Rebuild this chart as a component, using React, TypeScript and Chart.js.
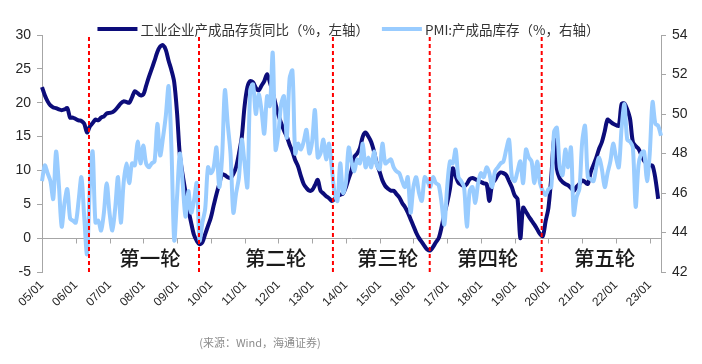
import React, { useEffect, useRef } from 'react';
import { Chart, registerables } from 'chart.js';

Chart.register(...registerables);

// ---------- data ----------
const START_YEAR = 2005;
const MONTH_COUNT = 221; // 2005/01 .. 2023/05

const monthLabels: string[] = [];
for (let i = 0; i < MONTH_COUNT; i++) {
  const yy = (START_YEAR + Math.floor(i / 12)) % 100;
  const mm = (i % 12) + 1;
  monthLabels.push(`${String(yy).padStart(2, '0')}/${String(mm).padStart(2, '0')}`);
}

// 工业企业产成品存货同比（%，左轴） 2005/01 .. 2023/04
const inventoryYoY: number[] = [
  22.3, 21.1, 20.2, 19.6, 19.3, 19.2, 19.0, 18.9, 19.0, 19.2, 17.8, 17.8,
  17.6, 17.4, 17.3, 16.9, 15.6, 16.5, 17.0, 17.5, 17.4, 17.8, 18.0, 18.4,
  18.5, 18.6, 18.9, 19.4, 19.9, 20.2, 20.1, 20.0, 20.8, 21.7, 21.4, 21.1,
  21.2, 22.5, 23.8, 25.0, 26.2, 27.5, 28.3, 28.5, 27.8, 26.2, 24.8, 23.0,
  18.5, 12.2, 9.3, 6.8, 4.3, 2.3, 0.5, -0.4, -0.9, -0.6, 0.6, 1.8,
  3.0, 4.8, 6.5, 8.0, 9.4, 9.3, 9.0, 8.9, 9.5, 10.5, 12.5, 14.9,
  19.5, 22.3, 23.2, 23.0, 22.2, 21.8, 22.5, 23.2, 24.2, 23.0, 21.5, 19.8,
  18.2, 17.0, 15.9, 15.0, 13.8, 12.8, 11.5, 10.6, 9.2, 8.0, 7.4, 7.0,
  7.1, 7.8, 8.6, 7.0, 6.6, 6.2, 5.9, 5.5, 5.8, 6.2, 6.4, 6.6,
  7.5, 8.8, 10.0, 12.0, 12.5, 13.3, 15.0, 15.6, 15.0, 14.2, 12.8, 11.0,
  9.8, 8.5, 7.7, 7.3, 7.0, 7.0, 6.5, 6.0, 5.2, 4.6, 3.8, 2.8,
  1.8, 0.8, 0.0, -0.6, -1.2, -1.7, -1.8, -1.3, -0.6, 0.0, 1.6, 3.6,
  5.2, 7.3, 10.3, 9.2, 8.2, 7.9, 7.7, 8.0, 8.7, 8.9, 8.7, 8.5,
  8.3, 8.1, 8.0, 5.5, 8.0, 8.6, 9.3, 9.7, 9.6, 9.3, 8.4, 7.5,
  6.3, 5.8, 0.0, 4.5, 3.9, 3.2, 2.6, 2.0, 1.3, 0.6, 0.3, 2.5,
  4.5, 9.0, 14.6, 10.2, 8.8, 8.3, 8.0, 7.8, 7.4, 7.0, 7.6, 8.0,
  8.5, 8.3, 8.0, 9.7, 10.8, 11.9, 13.2, 14.2, 15.8, 17.5, 17.2, 16.9,
  16.7, 16.6, 19.8, 19.9, 19.0, 17.6, 14.2, 13.6, 13.2, 12.3, 11.4, 11.0,
  10.8, 10.7, 8.8, 5.8,
];

// PMI:产成品库存（%，右轴） 2005/01 .. 2023/05
const pmiInventory: number[] = [
  46.6, 47.4, 47.0, 46.6, 45.7, 48.1, 46.4, 44.3, 45.5, 46.2, 44.7, 44.6,
  44.5, 45.6, 46.8, 44.8, 42.9, 46.3, 48.1, 44.5, 44.6, 44.1, 45.0, 46.5,
  45.0, 44.1, 45.2, 46.8, 44.5, 46.5, 47.5, 46.5, 47.5, 47.4, 48.6, 47.5,
  48.4, 47.5, 47.3, 47.5, 47.6, 49.5, 47.9, 48.8, 49.9, 51.4, 48.3, 43.6,
  45.8, 48.0, 46.5, 44.8, 46.1, 45.0, 45.6, 46.5, 43.6, 44.5, 45.2, 47.3,
  47.0, 47.3, 48.3, 46.3, 47.8, 51.2, 49.5, 48.0, 45.0, 46.0, 46.8, 48.7,
  47.5, 46.3, 51.2, 51.5, 50.0, 51.0, 50.2, 49.0, 50.9, 50.4, 53.1, 48.2,
  49.0, 50.5, 50.9, 48.8, 51.8, 52.2, 48.0, 48.5, 48.2, 48.6, 49.2, 48.0,
  48.6, 50.2, 47.8, 48.0, 48.7, 47.7, 48.5, 47.3, 46.0, 45.6, 47.5, 46.0,
  46.5, 48.3, 47.6, 47.1, 47.7, 47.5, 48.5, 47.3, 47.8, 47.3, 48.1, 47.4,
  47.2, 48.5, 47.5, 47.6, 47.7, 47.3, 47.1, 47.0, 46.6, 46.3, 46.8, 45.0,
  46.3, 46.8, 46.0, 45.6, 46.8, 46.6, 46.3, 46.8, 46.5, 46.4, 45.5, 44.4,
  46.3, 47.6, 47.5, 48.2, 46.8, 46.6, 46.3, 44.3, 46.1, 46.3, 45.5, 46.5,
  47.0, 46.8, 47.3, 47.0, 46.3, 47.1, 47.3, 47.5, 47.6, 48.2, 48.7, 46.8,
  46.6, 47.1, 47.6, 46.5, 48.2, 47.8, 47.6, 46.5, 47.6, 46.5, 46.1, 45.9,
  46.2, 46.3, 49.1, 49.3, 47.3, 46.9, 48.2, 47.3, 48.3, 44.9, 45.8, 46.2,
  48.6, 49.4, 46.8, 46.7, 46.6, 47.3, 47.8, 47.2, 46.3, 47.0, 47.6, 48.5,
  47.8, 47.3, 49.3, 50.5, 48.7, 48.6, 48.3, 45.3, 47.4, 48.0, 48.1, 46.6,
  48.0, 50.6, 49.5, 49.4, 48.9,
];

const seriesNames = ['工业企业产成品存货同比（%，左轴）', 'PMI:产成品库存（%，右轴）'];

// 库存周期分界（月序号，2005/01 = 0）
const cycleBoundaries = [16.7, 55.8, 103.4, 137.8, 177.6];
const cycleNames = ['第一轮', '第二轮', '第三轮', '第四轮', '第五轮'];
const cycleLabelMonths = [38.4, 83.1, 122.9, 158.4, 200];
const cycleLabelValue = -3;

const leftMin = -5, leftMax = 30, leftStep = 5;
const rightMin = 42, rightMax = 54, rightStep = 2;

const sourceNote = '(来源：Wind，海通证券)';

// ---------- styles ----------
const DARK = '#0c0c7a';
const LIGHT = '#99ccff';
const AXIS = '#a6a6a6';
const NUM_FONT = '"Liberation Sans", Arial, sans-serif';
const CJK_FONT = '"Noto Sans CJK SC", "Noto Sans", sans-serif';

const overlayPlugin = {
  id: 'overlay',
  beforeDatasetsDraw(chart: any) {
    const { ctx, chartArea, scales } = chart;
    const xs = scales.x;
    const ys = scales.y;
    const y0 = Math.round(ys.getPixelForValue(0)) + 0.5;
    ctx.save();
    ctx.strokeStyle = AXIS;
    ctx.lineWidth = 1;
    ctx.beginPath();
    ctx.moveTo(chartArea.left, y0);
    ctx.lineTo(chartArea.right, y0);
    monthLabels.forEach((l, i) => {
      if (l.endsWith('/01')) {
        const px = Math.round(xs.getPixelForValue(i)) + 0.5;
        ctx.moveTo(px, y0);
        ctx.lineTo(px, y0 + 5);
      }
    });
    ctx.stroke();
    ctx.restore();
  },
  afterDatasetsDraw(chart: any) {
    const { ctx, chartArea, scales } = chart;
    const xs = scales.x;
    ctx.save();
    ctx.strokeStyle = '#ff0000';
    ctx.lineWidth = 2;
    ctx.setLineDash([4, 3]);
    cycleBoundaries.forEach((m) => {
      const px = xs.getPixelForValue(m);
      ctx.beginPath();
      ctx.moveTo(px, chartArea.top + 2);
      ctx.lineTo(px, chartArea.bottom + 3);
      ctx.stroke();
    });
    ctx.restore();
  },
  afterDraw(chart: any) {
    const { ctx, scales } = chart;
    const xs = scales.x;
    const ys = scales.y;
    ctx.save();
    // cycle labels
    ctx.fillStyle = '#1a1a1a';
    ctx.font = `500 20.5px ${CJK_FONT}`;
    ctx.textAlign = 'center';
    ctx.textBaseline = 'middle';
    cycleNames.forEach((name, i) => {
      ctx.fillText(name, xs.getPixelForValue(cycleLabelMonths[i]), ys.getPixelForValue(cycleLabelValue));
    });

    // legend
    ctx.font = `13.5px ${CJK_FONT}`;
    ctx.textAlign = 'left';
    ctx.fillStyle = '#333333';
    const lineLen = 40;
    const gapAfterLine = 3;
    const gapBetween = 13;
    const w1 = ctx.measureText(seriesNames[0]).width;
    const w2 = ctx.measureText(seriesNames[1]).width;
    const total = lineLen + gapAfterLine + w1 + gapBetween + lineLen + gapAfterLine + w2;
    let lx = 348.5 - total / 2;
    const ly = 29;
    const colors = [DARK, LIGHT];
    const widths = [w1, w2];
    for (let i = 0; i < 2; i++) {
      ctx.strokeStyle = colors[i];
      ctx.lineWidth = 4;
      ctx.beginPath();
      ctx.moveTo(lx, ly);
      ctx.lineTo(lx + lineLen, ly);
      ctx.stroke();
      lx += lineLen + gapAfterLine;
      ctx.fillText(seriesNames[i], lx, ly + 1);
      lx += widths[i] + gapBetween;
    }

    // source
    ctx.font = `11px ${CJK_FONT}`;
    ctx.fillStyle = '#8c8c8c';
    ctx.textAlign = 'center';
    ctx.fillText(sourceNote, 260, 343);
    ctx.restore();
  },
};

export default function App() {
  const canvasRef = useRef<HTMLCanvasElement | null>(null);

  useEffect(() => {
    if (!canvasRef.current) return;
    const chart = new Chart(canvasRef.current, {
      type: 'line',
      data: {
        labels: monthLabels,
        datasets: [
          {
            label: seriesNames[0],
            data: inventoryYoY,
            yAxisID: 'y',
            borderColor: DARK,
            borderWidth: 4,
            pointRadius: 0,
            tension: 0.3,
            order: 1,
          },
          {
            label: seriesNames[1],
            data: pmiInventory,
            yAxisID: 'y1',
            borderColor: LIGHT,
            borderWidth: 4,
            pointRadius: 0,
            tension: 0.3,
            order: 0,
          },
        ],
      },
      options: {
        animation: false,
        responsive: true,
        maintainAspectRatio: false,
        layout: { padding: { top: 35, bottom: 52, left: 0, right: 0 } },
        plugins: {
          legend: { display: false },
          tooltip: { enabled: false },
        },
        scales: {
          x: {
            type: 'category',
            offset: false,
            grid: { display: false, drawTicks: false },
            border: { display: false },
            ticks: {
              autoSkip: false,
              maxRotation: 45,
              minRotation: 45,
              padding: 6,
              color: '#262626',
              font: { family: NUM_FONT, size: 12 },
              callback: function (this: any, value: any) {
                const l = monthLabels[value as number];
                return l && l.endsWith('/01') ? l : '';
              },
            },
            afterFit: (scale: any) => {
              scale.height = 40;
            },
          },
          y: {
            position: 'left',
            min: leftMin,
            max: leftMax,
            grid: { display: true, drawOnChartArea: false, drawTicks: true, tickLength: 5, color: AXIS },
            border: { display: true, color: AXIS },
            ticks: {
              stepSize: leftStep,
              padding: 6,
              color: '#262626',
              font: { family: NUM_FONT, size: 14 },
            },
            afterFit: (scale: any) => {
              scale.width = 42;
            },
          },
          y1: {
            position: 'right',
            min: rightMin,
            max: rightMax,
            grid: { display: true, drawOnChartArea: false, drawTicks: true, tickLength: 5, color: AXIS },
            border: { display: true, color: AXIS },
            ticks: {
              stepSize: rightStep,
              padding: 6,
              color: '#262626',
              font: { family: NUM_FONT, size: 14 },
            },
            afterFit: (scale: any) => {
              scale.width = 41;
            },
          },
        },
      },
      plugins: [overlayPlugin],
    });
    return () => chart.destroy();
  }, []);

  return (
    <div style={{ position: 'fixed', left: 0, top: 0, width: 702, height: 364, background: '#ffffff' }}>
      <canvas ref={canvasRef} />
    </div>
  );
}
